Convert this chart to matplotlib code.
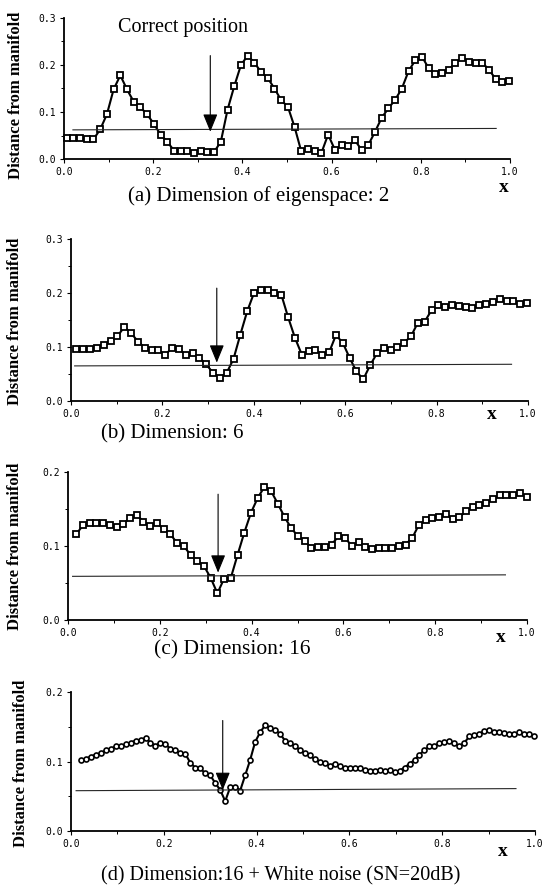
import numpy as np
import matplotlib
matplotlib.use("Agg")
import matplotlib.pyplot as plt
from matplotlib.ticker import MultipleLocator

# distance from manifold
ya = [0.045, 0.045, 0.045, 0.043, 0.042, 0.063, 0.095, 0.148, 0.178,
      0.148, 0.122, 0.110, 0.095, 0.075, 0.052, 0.037, 0.018, 0.018, 0.018,
      0.012, 0.018, 0.015, 0.015, 0.037, 0.105, 0.155, 0.200, 0.220, 0.205,
      0.185, 0.172, 0.150, 0.125, 0.111, 0.068, 0.016, 0.021, 0.016, 0.013,
      0.052, 0.020, 0.029, 0.027, 0.040, 0.019, 0.030, 0.058, 0.088, 0.108,
      0.126, 0.150, 0.187, 0.210, 0.218, 0.193, 0.180, 0.184, 0.190, 0.205,
      0.215, 0.207, 0.204, 0.205, 0.190, 0.170, 0.163, 0.167]
yb = [0.097, 0.096, 0.096, 0.099, 0.103, 0.111, 0.120, 0.137, 0.126, 0.110,
      0.099, 0.094, 0.094, 0.085, 0.099, 0.096, 0.086, 0.088, 0.080, 0.068,
      0.052, 0.043, 0.052, 0.078, 0.123, 0.166, 0.200, 0.205, 0.205, 0.200,
      0.197, 0.155, 0.117, 0.086, 0.092, 0.095, 0.086, 0.090, 0.122, 0.108,
      0.080, 0.055, 0.040, 0.066, 0.088, 0.098, 0.095, 0.100, 0.108, 0.120,
      0.145, 0.147, 0.168, 0.177, 0.174, 0.177, 0.176, 0.174, 0.173, 0.177,
      0.180, 0.183, 0.188, 0.186, 0.185, 0.179, 0.181]
yc = [0.116, 0.128, 0.131, 0.131, 0.131, 0.128, 0.126, 0.130, 0.138, 0.142,
      0.133, 0.127, 0.131, 0.123, 0.116, 0.104, 0.100, 0.088, 0.080, 0.073,
      0.057, 0.036, 0.056, 0.057, 0.088, 0.118, 0.145, 0.165, 0.180, 0.174,
      0.157, 0.139, 0.124, 0.113, 0.107, 0.097, 0.099, 0.099, 0.102, 0.113,
      0.111, 0.100, 0.105, 0.099, 0.096, 0.097, 0.097, 0.097, 0.100, 0.102,
      0.111, 0.129, 0.135, 0.138, 0.139, 0.143, 0.136, 0.139, 0.147, 0.153,
      0.155, 0.158, 0.163, 0.169, 0.169, 0.169, 0.172, 0.166]
yd = [0.102, 0.104, 0.107, 0.110, 0.112, 0.116, 0.118, 0.122, 0.122, 0.125,
      0.127, 0.130, 0.131, 0.134, 0.127, 0.123, 0.127, 0.125, 0.118, 0.116,
      0.112, 0.111, 0.098, 0.091, 0.090, 0.083, 0.080, 0.069, 0.059, 0.043,
      0.063, 0.064, 0.058, 0.080, 0.102, 0.128, 0.142,
      0.152, 0.148, 0.145, 0.140, 0.130, 0.126, 0.123, 0.116, 0.112, 0.109,
      0.103, 0.100, 0.098, 0.094, 0.097, 0.093, 0.091, 0.090, 0.090, 0.091,
      0.088, 0.087, 0.087, 0.088, 0.087, 0.088, 0.085, 0.087, 0.091, 0.097,
      0.102, 0.110, 0.116, 0.122, 0.122, 0.127, 0.128, 0.130, 0.126, 0.122,
      0.127, 0.136, 0.138, 0.140, 0.144, 0.145, 0.142, 0.142, 0.141, 0.140,
      0.140, 0.142, 0.140, 0.139, 0.136]

# first / last sample position of each scan
x_range = [(0.006, 0.998), (0.012, 0.998), (0.018, 0.999), (0.021, 0.998)]

# threshold line (x ends, y ends)
thr_x = [(0.02, 0.969), (0.008, 0.964), (0.01, 0.953), (0.011, 0.959)]
thr_y = [(0.062, 0.065), (0.065, 0.068), (0.059, 0.061), (0.058, 0.061)]

# correct position arrow: x, top, tip
arrow_x = [0.328, 0.319, 0.327, 0.327]
arrow_top = [0.22, 0.209, 0.17, 0.159]
arrow_tip = [0.058, 0.071, 0.064, 0.059]

ymax = [0.3, 0.3, 0.2, 0.2]
captions = ["(a) Dimension of eigenspace: 2", "(b) Dimension: 6",
            "(c) Dimension: 16", "(d) Dimension:16 + White noise (SN=20dB)"]
cap_size = [15, 15, 15.5, 14.5]

W, H = 543, 892
# axes boxes in pixels: left, right, top, bottom
boxes = [(64, 510, 18, 159), (71, 528, 239, 401),
         (68, 527, 472, 620), (71, 535, 692, 831)]
cap_pos = [(259, 196), (172, 434), (232, 650), (281, 876)]
xlab_pos = [(504, 188), (492, 415), (501, 638), (503, 851)]
ylab_pos = [(16, 95), (15, 321), (15, 546), (21, 763)]

serif = "Liberation Serif"
fig = plt.figure(figsize=(W / 100, H / 100), dpi=100)

for i in range(4):
    l, r, t, b = boxes[i]
    ax = fig.add_axes([l / W, 1 - b / H, (r - l) / W, (b - t) / H])
    y = np.array([ya, yb, yc, yd][i])
    x = np.linspace(x_range[i][0], x_range[i][1], len(y))
    if i < 3:
        ax.plot(x, y, "-s", color="black", lw=1.5, ms=4, mfc="white",
                mec="black", mew=1.3, clip_on=False)
    else:
        ax.plot(x, y, "-o", color="black", lw=1.5, ms=3.6, mfc="white",
                mec="black", mew=1.2, clip_on=False)
    ax.plot(thr_x[i], thr_y[i], color="0.15", lw=0.8)
    ax.annotate("", xy=(arrow_x[i], arrow_tip[i]),
                xytext=(arrow_x[i], arrow_top[i]),
                arrowprops=dict(arrowstyle="-|>,head_length=1.1,head_width=0.45",
                                lw=0.8, color="black", shrinkA=0, shrinkB=0,
                                mutation_scale=10))
    ax.set_xlim(0, 1)
    ax.set_ylim(0, ymax[i])
    ax.xaxis.set_major_locator(MultipleLocator(0.2))
    ax.xaxis.set_minor_locator(MultipleLocator(0.1))
    ax.yaxis.set_major_locator(MultipleLocator(0.1))
    ax.yaxis.set_minor_locator(MultipleLocator(0.05))
    ax.set_xticklabels([f"{v:.1f}" for v in ax.get_xticks()])
    ax.set_yticklabels([f"{v:.1f}" for v in ax.get_yticks()])
    for s in ["top", "right"]:
        ax.spines[s].set_visible(False)
    for s in ["left", "bottom"]:
        ax.spines[s].set_linewidth(1.3)
    ax.tick_params(which="major", direction="out", length=3, width=0.8,
                   labelsize=7, pad=3)
    ax.tick_params(which="minor", direction="out", length=2, width=0.7)
    for lab in ax.get_xticklabels() + ax.get_yticklabels():
        lab.set_family("DejaVu Sans Mono")
    ax.patch.set_visible(False)

    fig.text(cap_pos[i][0] / W, 1 - cap_pos[i][1] / H, captions[i],
             family=serif, fontsize=cap_size[i], ha="center", va="center")
    fig.text(xlab_pos[i][0] / W, 1 - xlab_pos[i][1] / H, "x", family=serif,
             fontsize=14, fontweight="bold", ha="center", va="center")
    fig.text(ylab_pos[i][0] / W, 1 - ylab_pos[i][1] / H,
             "Distance from manifold", family=serif, fontsize=12,
             fontweight="bold", rotation=90, ha="center", va="center")
    if i == 0:
        ax.text(0.267, 0.28, "Correct position", family=serif, fontsize=14.5,
                ha="center", va="center")

fig.savefig("out.png", dpi=100)
